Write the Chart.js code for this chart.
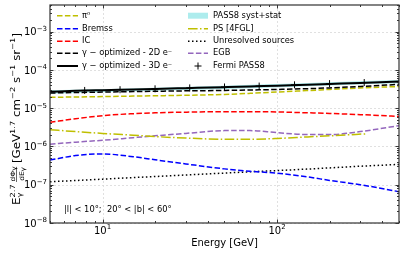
<!DOCTYPE html>
<html>
<head>
<meta charset="utf-8">
<script src="https://cdn.jsdelivr.net/npm/chart.js@4.4.0/dist/chart.umd.min.js"></script>
<style>
  html, body { margin: 0; padding: 0; background: #fff; }
  canvas { display: block; }
</style>
</head>
<body>
<canvas id="c" width="405" height="253"></canvas>
<script>
// energy grid (GeV) shared by the model curves
const energy = [5, 7, 10, 15, 20, 30, 50, 70, 100, 150, 200, 300, 500];

const pi0 = [1.93e-5, 1.97e-5, 2.02e-5, 2.08e-5, 2.12e-5, 2.18e-5, 2.3e-5, 2.45e-5, 2.65e-5, 2.9e-5, 3.1e-5, 3.4e-5, 3.7e-5];
const bremss = [4.4e-7, 5.8e-7, 6.4e-7, 5.4e-7, 4.5e-7, 3.5e-7, 2.6e-7, 2.25e-7, 2.0e-7, 1.6e-7, 1.3e-7, 1.0e-7, 6.6e-8];
const ic = [4.3e-6, 5.3e-6, 6.4e-6, 7.2e-6, 7.6e-6, 7.9e-6, 8.1e-6, 8.1e-6, 8.0e-6, 7.6e-6, 7.3e-6, 6.8e-6, 6.1e-6];
const gamma2D = [2.5e-5, 2.58e-5, 2.65e-5, 2.72e-5, 2.78e-5, 2.85e-5, 2.92e-5, 3.0e-5, 3.1e-5, 3.25e-5, 3.4e-5, 3.7e-5, 4.2e-5];
const gamma3D = [2.7e-5, 2.85e-5, 2.97e-5, 3.1e-5, 3.2e-5, 3.35e-5, 3.55e-5, 3.7e-5, 3.9e-5, 4.1e-5, 4.3e-5, 4.6e-5, 5.0e-5];
const unresolved = [1.2e-7, 1.29e-7, 1.4e-7, 1.54e-7, 1.64e-7, 1.8e-7, 2.02e-7, 2.18e-7, 2.35e-7, 2.57e-7, 2.76e-7, 3.05e-7, 3.4e-7];
const egb = [1.15e-6, 1.3e-6, 1.45e-6, 1.7e-6, 1.9e-6, 2.2e-6, 2.6e-6, 2.6e-6, 2.3e-6, 2.05e-6, 2.05e-6, 2.45e-6, 3.5e-6];

// 4FGL point sources stop a bit before 500 GeV
const psEnergy = [5, 7, 10, 15, 20, 30, 50, 70, 100, 150, 200, 330];
const ps = [2.75e-6, 2.45e-6, 2.2e-6, 1.97e-6, 1.82e-6, 1.66e-6, 1.55e-6, 1.55e-6, 1.62e-6, 1.78e-6, 1.9e-6, 2.15e-6];

// Fermi PASS8 data + syst/stat band
const fermiEnergy = [5, 7.9, 12.6, 20, 31.6, 50, 79, 126, 200, 316, 500];
const fermi = [2.75e-5, 2.92e-5, 3.05e-5, 3.22e-5, 3.4e-5, 3.6e-5, 3.8e-5, 4.1e-5, 4.4e-5, 4.7e-5, 4.95e-5];
const bandLow = [2.4e-5, 2.55e-5, 2.7e-5, 2.85e-5, 3.0e-5, 3.2e-5, 3.4e-5, 3.65e-5, 3.95e-5, 4.25e-5, 4.5e-5];
const bandHigh = [2.95e-5, 3.1e-5, 3.25e-5, 3.45e-5, 3.65e-5, 3.9e-5, 4.15e-5, 4.45e-5, 4.8e-5, 5.15e-5, 5.5e-5];

const xTicks = [10, 100];
const yTicks = [1e-8, 1e-7, 1e-6, 1e-5, 1e-4, 1e-3];

const legendCols = [
  ["π⁰", "Bremss", "IC", "γ − optimized - 2D e⁻", "γ − optimized - 3D e⁻"],
  ["PASS8 syst+stat", "PS [4FGL]", "Unresolved sources", "EGB", "Fermi PASS8"],
];

const FONT = "'DejaVu Sans', sans-serif";
const dashed = [5.5, 2.4];
const dashdot = [9.6, 2.4, 1.5, 2.4];
const dotted = [1.5, 2.5];

const pts = (xs, ys) => xs.map((x, i) => ({ x, y: ys[i] }));

const curve = (label, xs, ys, color, dash, width = 1.5) => ({
  label,
  data: pts(xs, ys),
  borderColor: color,
  borderDash: dash,
  borderWidth: width,
  pointRadius: 0,
  fill: false,
  cubicInterpolationMode: "monotone",
});

// index 0 ends up on top
const datasets = [
  {
    label: "Fermi PASS8",
    data: pts(fermiEnergy, fermi),
    showLine: false,
    pointStyle: "cross",
    pointRadius: 3.5,
    borderColor: "#000",
    borderWidth: 1,
  },
  curve("γ − optimized - 3D e⁻", energy, gamma3D, "#000", [], 2),
  curve("γ − optimized - 2D e⁻", energy, gamma2D, "#000", dashed),
  curve("π⁰", energy, pi0, "#bfbf00", dashed),
  curve("IC", energy, ic, "#ff0000", dashed),
  curve("PS [4FGL]", psEnergy, ps, "#bfbf00", dashdot),
  curve("EGB", energy, egb, "#9467bd", dashed),
  curve("Bremss", energy, bremss, "#0000ff", dashed),
  curve("Unresolved sources", energy, unresolved, "#000", dotted),
  {
    label: "PASS8 syst+stat",
    data: pts(fermiEnergy, bandHigh),
    borderWidth: 0,
    pointRadius: 0,
    backgroundColor: "rgba(0, 195, 200, 0.32)",
    fill: "+1",
  },
  {
    label: "",
    data: pts(fermiEnergy, bandLow),
    borderWidth: 0,
    pointRadius: 0,
    fill: false,
  },
];

function decadeTicks(min, max) {
  const out = [];
  for (let e = Math.floor(Math.log10(min)); e <= Math.ceil(Math.log10(max)); e++) {
    for (let m = 1; m <= 9; m++) {
      const v = m * Math.pow(10, e);
      if (v >= min * 0.999 && v <= max * 1.001) out.push({ v, major: m === 1 });
    }
  }
  return out;
}

// "10" with a raised smaller exponent, like matplotlib mathtext
function powerLabel(ctx, v, x, y, align) {
  const exp = String(Math.round(Math.log10(v))).replace("-", "−");
  ctx.font = "10px " + FONT;
  const wb = ctx.measureText("10").width;
  ctx.font = "7px " + FONT;
  const we = ctx.measureText(exp).width;
  const tw = wb + we;
  const x0 = align === "right" ? x - tw : x - tw / 2;
  ctx.font = "10px " + FONT;
  ctx.fillText("10", x0, y);
  ctx.font = "7px " + FONT;
  ctx.fillText(exp, x0 + wb, y - 4.3);
}

// drop the label overhang padding so the plot box sits exactly where we want it
const noPad = (s) => { s.paddingTop = 0; s.paddingBottom = 0; s.paddingLeft = 0; s.paddingRight = 0; };

const decor = {
  id: "decor",
  beforeDraw(chart) {
    const ctx = chart.ctx;
    ctx.save();
    ctx.fillStyle = "#fff";
    ctx.fillRect(0, 0, chart.width, chart.height);
    ctx.restore();
  },
  beforeDatasetsDraw(chart) {
    const { ctx, chartArea: a, scales } = chart;
    ctx.save();
    ctx.strokeStyle = "#d9d9d9";
    ctx.lineWidth = 0.8;
    ctx.setLineDash([2, 2]);
    xTicks.forEach((v) => {
      const p = Math.round(scales.x.getPixelForValue(v)) + 0.5;
      ctx.beginPath(); ctx.moveTo(p, a.top); ctx.lineTo(p, a.bottom); ctx.stroke();
    });
    yTicks.forEach((v) => {
      const p = Math.round(scales.y.getPixelForValue(v)) + 0.5;
      ctx.beginPath(); ctx.moveTo(a.left, p); ctx.lineTo(a.right, p); ctx.stroke();
    });
    ctx.restore();
  },
  afterDatasetsDraw(chart) {
    const { ctx, chartArea: a, scales } = chart;
    ctx.save();
    ctx.strokeStyle = "#222";
    ctx.lineWidth = 0.9;
    ctx.setLineDash([]);
    decadeTicks(scales.x.min, scales.x.max).forEach((t) => {
      const p = Math.round(scales.x.getPixelForValue(t.v)) + 0.5;
      const len = t.major ? 3.5 : 2;
      ctx.beginPath();
      ctx.moveTo(p, a.bottom); ctx.lineTo(p, a.bottom - len);
      ctx.moveTo(p, a.top); ctx.lineTo(p, a.top + len);
      ctx.stroke();
    });
    decadeTicks(scales.y.min, scales.y.max).forEach((t) => {
      const p = Math.round(scales.y.getPixelForValue(t.v)) + 0.5;
      const len = t.major ? 3.5 : 2;
      ctx.beginPath();
      ctx.moveTo(a.left, p); ctx.lineTo(a.left + len, p);
      ctx.moveTo(a.right, p); ctx.lineTo(a.right - len, p);
      ctx.stroke();
    });
    ctx.strokeStyle = "#333";
    ctx.lineWidth = 1.2;
    ctx.strokeRect(a.left, a.top, a.right - a.left, a.bottom - a.top);
    ctx.restore();
  },
  afterDraw(chart) {
    const { ctx, chartArea: a, scales } = chart;
    ctx.save();
    ctx.fillStyle = "#000";

    // tick labels from the scales
    ctx.textBaseline = "alphabetic";
    xTicks.forEach((v) => powerLabel(ctx, v, scales.x.getPixelForValue(v), a.bottom + 10.5, "center"));
    yTicks.forEach((v) => powerLabel(ctx, v, a.left - 3, scales.y.getPixelForValue(v) + 3.6, "right"));

    // legend, two columns
    const rows = [15.7, 28.7, 41.3, 53.3, 66];
    const cols = [{ h0: 57, h1: 78, tx: 82 }, { h0: 188, h1: 208, tx: 213 }];
    ctx.font = "8.3px " + FONT;
    ctx.textBaseline = "middle";
    legendCols.forEach((labels, ci) => {
      const c = cols[ci];
      labels.forEach((lab, ri) => {
        const y = rows[ri];
        const ds = chart.data.datasets.find((d) => d.label === lab);
        if (ds.fill) {
          ctx.fillStyle = ds.backgroundColor;
          ctx.fillRect(c.h0, y - 3, c.h1 - c.h0, 6);
        } else if (ds.showLine === false) {
          const mx = (c.h0 + c.h1) / 2;
          ctx.strokeStyle = "#000";
          ctx.lineWidth = 1;
          ctx.setLineDash([]);
          ctx.beginPath();
          ctx.moveTo(mx - 3.5, y); ctx.lineTo(mx + 3.5, y);
          ctx.moveTo(mx, y - 3.5); ctx.lineTo(mx, y + 3.5);
          ctx.stroke();
        } else {
          ctx.strokeStyle = ds.borderColor;
          ctx.lineWidth = ds.borderWidth;
          ctx.setLineDash(ds.borderDash || []);
          ctx.beginPath();
          ctx.moveTo(c.h0, y); ctx.lineTo(c.h1, y);
          ctx.stroke();
        }
        ctx.setLineDash([]);
        ctx.fillStyle = "#000";
        ctx.font = "8.3px " + FONT;
        ctx.fillText(lab, c.tx, y);
      });
    });

    // region annotation
    ctx.textBaseline = "alphabetic";
    ctx.font = "8.3px " + FONT;
    ctx.fillText("|l| < 10°;  20° < |b| < 60°", 64, 211.5);

    // x axis title
    ctx.font = "10px " + FONT;
    ctx.textAlign = "center";
    ctx.fillText("Energy [GeV]", (a.left + a.right) / 2, 245.5);

    // y axis title, rotated, with super/subscripts; stretched to span y 33..205
    ctx.textAlign = "left";
    const big = "10px " + FONT, small = "7px " + FONT, tiny = "6.3px " + FONT, micro = "4.8px " + FONT;
    const w = (t, f) => { ctx.font = f; return ctx.measureText(t).width; };
    const tail = [
      [" [GeV", big, 0], ["1.7", small, -4.3], [" cm", big, 0], ["−2", small, -4.3],
      [" s", big, 0], ["−1", small, -4.3], [" sr", big, 0], ["−1", small, -4.3], ["]", big, 0],
    ];
    const wE = w("E", big);
    const wSS = Math.max(w("2.7", small), w("γ", small));
    const wNum = w("dΦ", tiny) + w("γ", micro);
    const wDen = w("dE", tiny) + w("γ", micro);
    const wFrac = Math.max(wNum, wDen) + 1;
    const total = wE + wSS + 2 + wFrac + tail.reduce((s, p) => s + w(p[0], p[1]), 0);
    const k = 172 / total;
    ctx.translate(19.5, 119 + 86);
    ctx.rotate(-Math.PI / 2);
    ctx.scale(k, Math.min(1, k));
    let x = 0;
    ctx.font = big; ctx.fillText("E", x, 0); x += wE;
    ctx.font = small; ctx.fillText("2.7", x, -4.5); ctx.fillText("γ", x, 2.6); x += wSS + 2;
    const nx = x + (wFrac - wNum) / 2, dx = x + (wFrac - wDen) / 2;
    ctx.font = tiny; ctx.fillText("dΦ", nx, -4.6);
    ctx.font = micro; ctx.fillText("γ", nx + w("dΦ", tiny), -3.4);
    ctx.font = tiny; ctx.fillText("dE", dx, 4.2);
    ctx.font = micro; ctx.fillText("γ", dx + w("dE", tiny), 5.4);
    ctx.fillRect(x, -3.4, wFrac, 0.6);
    x += wFrac;
    tail.forEach(([t, f, dy]) => { ctx.font = f; ctx.fillText(t, x, dy); x += ctx.measureText(t).width; });
    ctx.restore();
  },
};

new Chart(document.getElementById("c"), {
  type: "line",
  data: { datasets },
  options: {
    responsive: false,
    animation: false,
    devicePixelRatio: 1,
    layout: { padding: { left: 0, right: 6, top: 4, bottom: 0 } },
    plugins: { legend: { display: false }, tooltip: { enabled: false } },
    scales: {
      x: {
        type: "logarithmic",
        min: 5,
        max: 500,
        grid: { display: false },
        border: { display: false },
        ticks: { display: false },
        afterBuildTicks: (s) => { s.ticks = xTicks.map((v) => ({ value: v, major: true })); },
        afterFit: (s) => { s.height = 30; noPad(s); },
      },
      y: {
        type: "logarithmic",
        min: 1e-8,
        max: 5e-3,
        grid: { display: false },
        border: { display: false },
        ticks: { display: false },
        afterBuildTicks: (s) => { s.ticks = yTicks.map((v) => ({ value: v, major: true })); },
        afterFit: (s) => { s.width = 50; noPad(s); },
      },
    },
  },
  plugins: [decor],
});
</script>
</body>
</html>
